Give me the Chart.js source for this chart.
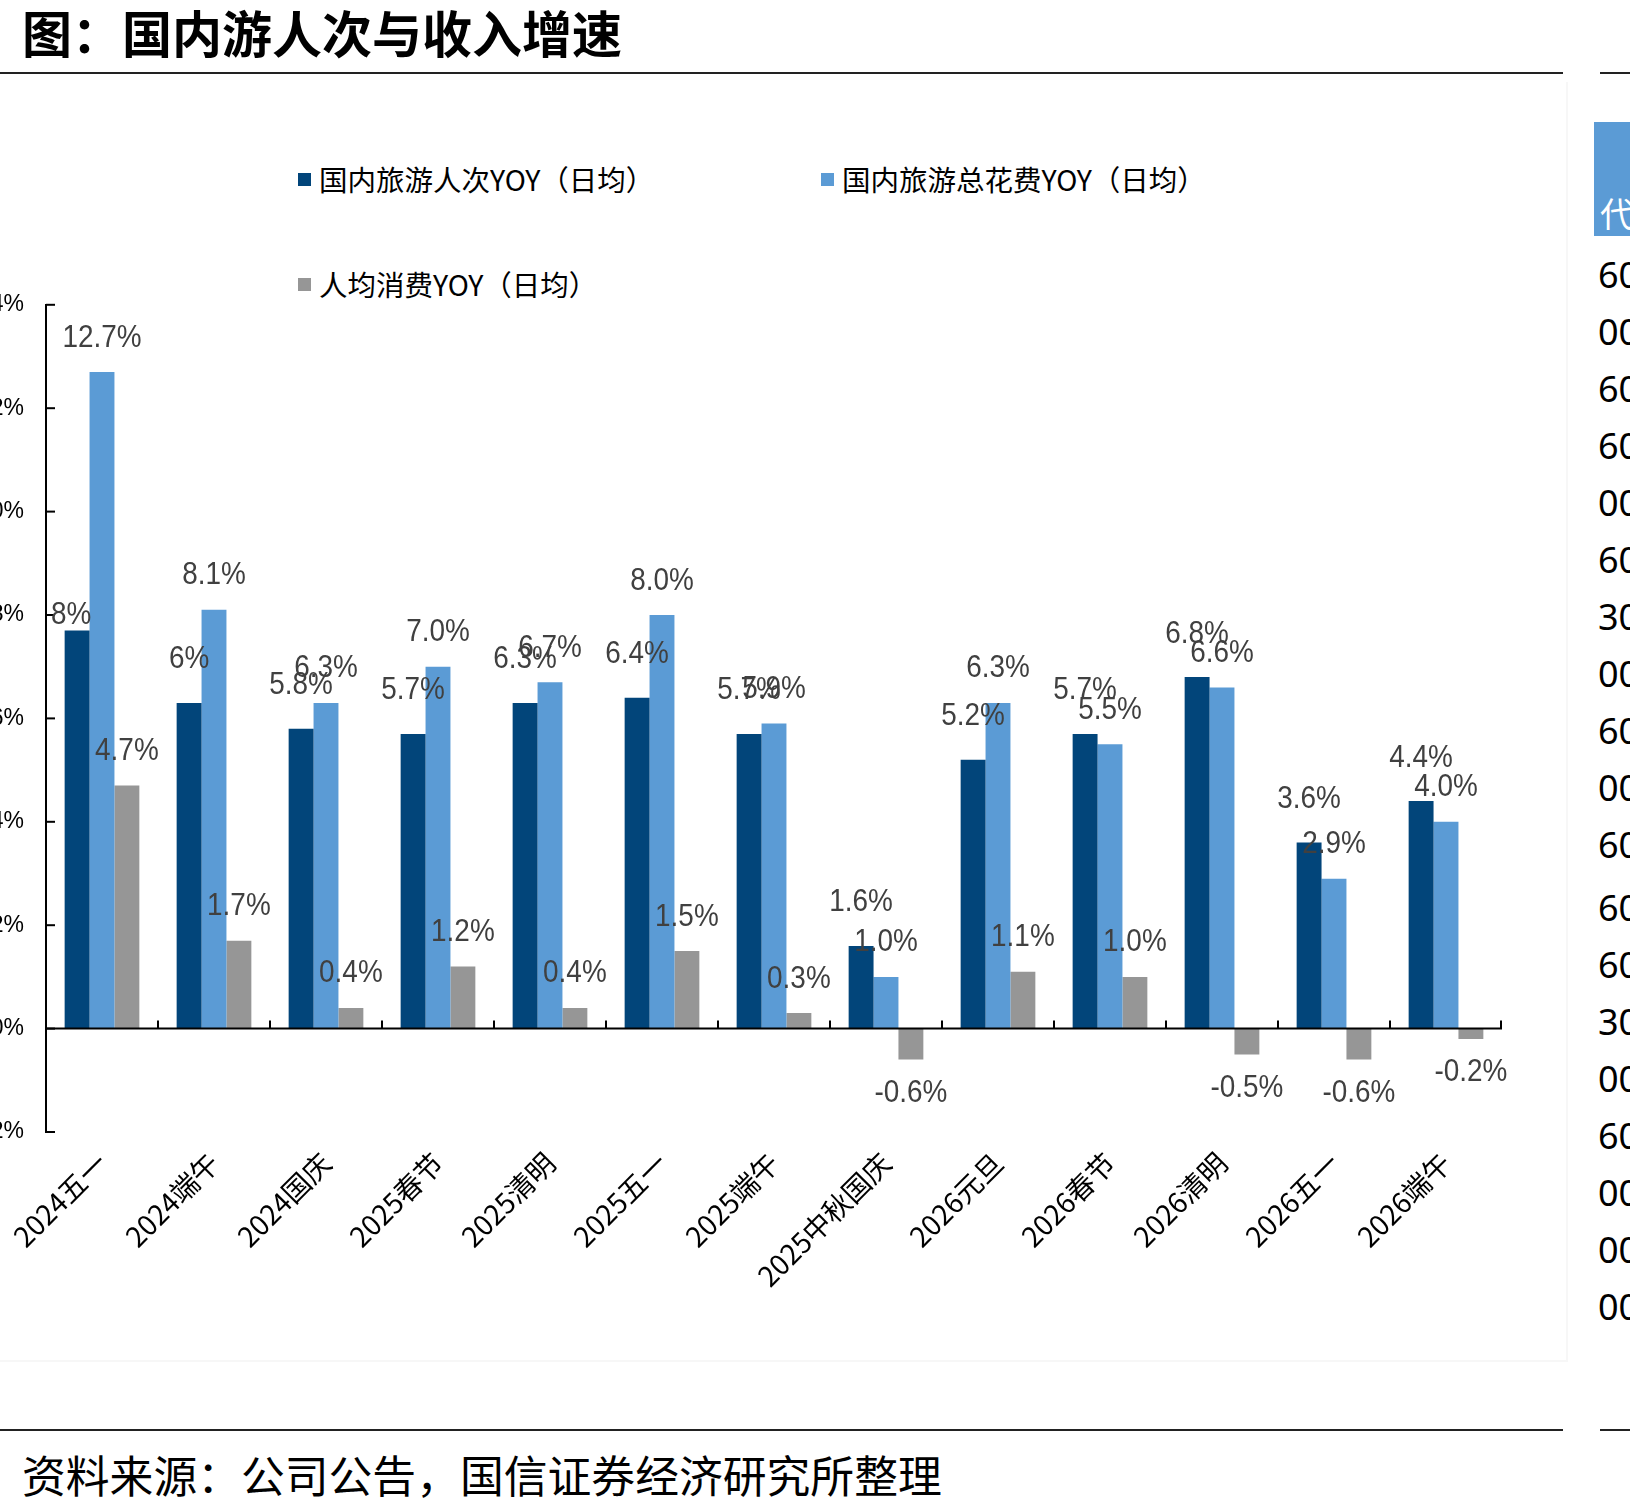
<!DOCTYPE html>
<html>
<head>
<meta charset="utf-8">
<script src="https://cdn.jsdelivr.net/npm/chart.js@4.4.1/dist/chart.umd.min.js"></script>
<style>
  html, body { margin: 0; padding: 0; background: #fff; }
  body { width: 1630px; height: 1511px; position: relative; overflow: hidden; font-family: "Noto Sans CJK SC", sans-serif; }
  .title { position: absolute; left: 22px; top: 6px; font-size: 50px; font-weight: 700; line-height: 1; color: #000; white-space: nowrap; }
  .rule { position: absolute; height: 2px; background: #222; }
  .frame { position: absolute; left: 0; top: 82px; width: 1566px; height: 1278px; border-right: 2px solid #f7f7f7; border-bottom: 2px solid #f7f7f7; }
  .footer { position: absolute; left: 22px; top: 1453px; font-size: 43.8px; line-height: 1; color: #000; white-space: nowrap; }
  .legend-item { position: absolute; display: flex; align-items: center; font-size: 28.5px; line-height: 1; color: #000; white-space: nowrap; }
  .legend-item .sw { width: 13px; height: 13px; margin-right: 8px; }
  #chart { position: absolute; left: -84px; top: 269px; }
  .side-box { position: absolute; left: 1594px; top: 122px; width: 40px; height: 114px; background: #5B9BD5; }
  .side-box span { position: absolute; left: 6px; top: 74px; color: #fff; font-size: 34px; line-height: 1; }
  .side-num { position: absolute; left: 1598px; font-family: "Noto Sans", sans-serif; font-size: 36px; line-height: 1; color: #000; }
</style>
</head>
<body>
<div class="frame"></div>
<div class="title">图：国内游人次与收入增速</div>
<div class="rule" style="left:0;top:72px;width:1563px;"></div>
<div class="rule" style="left:1600px;top:72px;width:30px;"></div>
<div class="rule" style="left:0;top:1429px;width:1563px;"></div>
<div class="rule" style="left:1600px;top:1429px;width:30px;"></div>
<div class="footer">资料来源：公司公告，国信证券经济研究所整理</div>
<div class="side-box"><span>代</span></div>
<div id="sideNums"></div>
<div id="legend"></div>
<canvas id="chart" width="1596" height="1059"></canvas>
<script>
// ---- data ----
const categories = ['2024五一','2024端午','2024国庆','2025春节','2025清明','2025五一','2025端午','2025中秋国庆','2026元旦','2026春节','2026清明','2026五一','2026端午'];
const seriesNames = ['国内旅游人次YOY（日均）','国内旅游总花费YOY（日均）','人均消费YOY（日均）'];
const visitorsYoY = [7.7, 6.3, 5.8, 5.7, 6.3, 6.4, 5.7, 1.6, 5.2, 5.7, 6.8, 3.6, 4.4];
const spendingYoY = [12.7, 8.1, 6.3, 7.0, 6.7, 8.0, 5.9, 1.0, 6.3, 5.5, 6.6, 2.9, 4.0];
const perCapitaYoY = [4.7, 1.7, 0.4, 1.2, 0.4, 1.5, 0.3, -0.6, 1.1, 1.0, -0.5, -0.6, -0.2];
const visitorsLabels = ['8%','6%','5.8%','5.7%','6.3%','6.4%','5.7%','1.6%','5.2%','5.7%','6.8%','3.6%','4.4%'];
const yTicks = [-2, 0, 2, 4, 6, 8, 10, 12, 14];
const sideColumn = ['60','00','60','60','00','60','30','00','60','00','60','60','60','30','00','60','00','00','00'];

const colors = ['#02457A', '#5B9BD5', '#969696'];

// side column (cropped neighbouring table)
const sideWrap = document.getElementById('sideNums');
sideColumn.forEach((t, i) => {
  const d = document.createElement('div');
  d.className = 'side-num';
  d.style.top = (257 + i * 57 + (i >= 11 ? 6 : 0)) + 'px';
  d.textContent = t;
  sideWrap.appendChild(d);
});

// legend
const legendPos = [[298, 165], [821, 165], [298, 270]];
const legendWrap = document.getElementById('legend');
seriesNames.forEach((n, i) => {
  const d = document.createElement('div');
  d.className = 'legend-item';
  d.style.left = legendPos[i][0] + 'px';
  d.style.top = legendPos[i][1] + 'px';
  d.innerHTML = '<span class="sw" style="background:' + colors[i] + '"></span><span>' + n + '</span>';
  legendWrap.appendChild(d);
});

const labelSets = [
  visitorsLabels,
  spendingYoY.map(v => v.toFixed(1) + '%'),
  perCapitaYoY.map(v => v.toFixed(1) + '%')
];

const axisPlugin = {
  id: 'axisPlugin',
  afterDatasetsDraw(chart) {
    const ctx = chart.ctx;
    const area = chart.chartArea;
    const ys = chart.scales.y;
    const y0 = ys.getPixelForValue(0);
    ctx.save();
    ctx.strokeStyle = '#000';
    ctx.lineWidth = 2;
    ctx.beginPath();
    ctx.moveTo(area.left, y0);
    ctx.lineTo(area.right, y0);
    ctx.stroke();
    const n = categories.length;
    const cw = (area.right - area.left) / n;
    for (let i = 1; i <= n; i++) {
      const x = Math.round(area.left + i * cw) - (i === n ? 1 : 0);
      ctx.beginPath();
      ctx.moveTo(x, y0);
      ctx.lineTo(x, y0 - 8);
      ctx.stroke();
    }
    yTicks.forEach(v => {
      const y = ys.getPixelForValue(v);
      ctx.beginPath();
      ctx.moveTo(area.left, y);
      ctx.lineTo(area.left + 9, y);
      ctx.stroke();
    });
    ctx.restore();

    // data labels
    ctx.save();
    ctx.fillStyle = '#404040';
    ctx.font = '31px "Liberation Sans", Arial, sans-serif';
    ctx.textAlign = 'center';
    ctx.textBaseline = 'middle';
    chart.data.datasets.forEach((ds, di) => {
      const meta = chart.getDatasetMeta(di);
      meta.data.forEach((bar, i) => {
        const v = ds.data[i];
        let x = bar.x;
        let y;
        if (v >= 0) {
          y = bar.y - (di === 0 ? 43 : 34);
        } else {
          y = bar.y + 34;
        }
        if (di === 0 && i === 0) { x -= 6; y = bar.y - 15; }
        ctx.save();
        ctx.translate(x, y);
        ctx.scale(0.9, 1);
        ctx.fillText(labelSets[di][i], 0, 0);
        ctx.restore();
      });
    });
    ctx.restore();
  }
};

new Chart(document.getElementById('chart'), {
  type: 'bar',
  data: {
    labels: categories,
    datasets: [
      { label: seriesNames[0], data: visitorsYoY, backgroundColor: colors[0] },
      { label: seriesNames[1], data: spendingYoY, backgroundColor: colors[1] },
      { label: seriesNames[2], data: perCapitaYoY, backgroundColor: colors[2] }
    ]
  },
  options: {
    responsive: false,
    animation: false,
    devicePixelRatio: 1,
    layout: { padding: { left: 0, right: 10, top: 28.5, bottom: 0 } },
    datasets: { bar: { barPercentage: 1.0, categoryPercentage: 0.667 } },
    plugins: { legend: { display: false }, tooltip: { enabled: false }, title: { display: false } },
    scales: {
      x: {
        grid: { display: false, drawTicks: false },
        border: { display: false },
        ticks: {
          color: '#000',
          font: { family: '"Noto Sans CJK SC", sans-serif', size: 28 },
          minRotation: 45, maxRotation: 45,
          padding: 14,
          autoSkip: false
        },
        afterFit(scale) { scale.height = 196; }
      },
      y: {
        min: -2, max: 14,
        grid: { display: false, drawTicks: false },
        border: { display: true, color: '#000', width: 2 },
        ticks: {
          stepSize: 2,
          color: '#000',
          padding: 22,
          font: { family: '"Liberation Sans Narrow", "Liberation Sans", Arial, sans-serif', size: 23 },
          callback: v => v + '%'
        },
        afterFit(scale) { scale.width = 130; }
      }
    }
  },
  plugins: [axisPlugin]
});
</script>
</body>
</html>
